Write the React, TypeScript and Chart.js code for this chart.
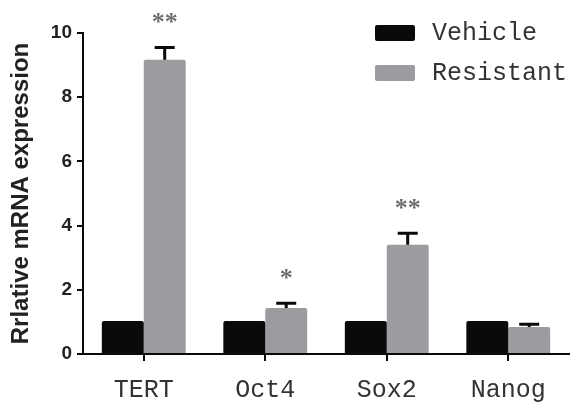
import React, { useEffect, useRef } from "react";
import { Chart, registerables } from "chart.js";
Chart.register(...registerables);

const categories = ["TERT", "Oct4", "Sox2", "Nanog"];
const seriesNames = ["Vehicle", "Resistant"];
const vehicle = [1.03, 1.03, 1.03, 1.03];
const resistant = [9.17, 1.43, 3.4, 0.84];
const resistantErr = [0.38, 0.15, 0.36, 0.09];
const significance = ["**", "*", "**", ""];
const yTicks = [0, 2, 4, 6, 8, 10];

const BLACK = "#0a0a0a";
const GRAY = "#9b9c9f";
const TEXT = "#333333";
const MONO = "'Liberation Mono', 'DejaVu Sans Mono', monospace";
const SANS = "'Liberation Sans', Arial, sans-serif";

const overlay = {
  id: "overlay",
  afterDatasetsDraw(chart: any) {
    const ctx = chart.ctx;
    const y = chart.scales.y;
    const meta = chart.getDatasetMeta(1);
    ctx.save();
    meta.data.forEach((bar: any, i: number) => {
      const top = y.getPixelForValue(resistant[i]);
      const errTop = y.getPixelForValue(resistant[i] + resistantErr[i]);
      ctx.strokeStyle = BLACK;
      ctx.lineWidth = 3;
      ctx.beginPath();
      ctx.moveTo(bar.x, top);
      ctx.lineTo(bar.x, errTop);
      ctx.moveTo(bar.x - 10, errTop);
      ctx.lineTo(bar.x + 10, errTop);
      ctx.stroke();
      if (significance[i]) {
        ctx.fillStyle = "#6e6e6e";
        ctx.font = "bold 26px 'Liberation Serif', serif";
        ctx.textAlign = "center";
        ctx.textBaseline = "middle";
        ctx.fillText(significance[i], bar.x, errTop - 24);
      }
    });
    const colors = [BLACK, GRAY];
    seriesNames.forEach((name, k) => {
      const bx = 375;
      const by = 25 + k * 40;
      ctx.fillStyle = colors[k];
      ctx.beginPath();
      ctx.roundRect(bx, by, 40, 16, 2);
      ctx.fill();
      ctx.fillStyle = TEXT;
      ctx.font = `25px ${MONO}`;
      ctx.textAlign = "left";
      ctx.textBaseline = "middle";
      ctx.fillText(name, 432, by + 8);
    });
    ctx.restore();
  },
};

export default function App() {
  const ref = useRef<HTMLCanvasElement>(null);
  useEffect(() => {
    const chart = new Chart(ref.current!, {
      type: "bar",
      data: {
        labels: categories,
        datasets: [
          { label: seriesNames[0], data: vehicle, backgroundColor: BLACK, borderRadius: 2, borderSkipped: "bottom" },
          { label: seriesNames[1], data: resistant, backgroundColor: GRAY, borderRadius: 2, borderSkipped: "bottom" },
        ],
      },
      options: {
        animation: false,
        responsive: false,
        layout: { padding: { top: 33, right: 4, left: 0, bottom: 0 } },
        datasets: { bar: { categoryPercentage: 0.69, barPercentage: 1 } },
        plugins: { legend: { display: false }, tooltip: { enabled: false } },
        scales: {
          x: {
            grid: { display: true, offset: false, drawOnChartArea: false, tickLength: 7, color: BLACK, lineWidth: 2 },
            border: { color: BLACK, width: 2 },
            ticks: { color: TEXT, font: { family: MONO, size: 25 }, padding: 14 },
            afterFit(s: any) { s.height = 51; },
          },
          y: {
            min: 0,
            max: 10,
            afterBuildTicks(s: any) { s.ticks = yTicks.map((v) => ({ value: v })); },
            grid: { display: true, drawOnChartArea: false, tickLength: 6, color: BLACK, lineWidth: 2 },
            border: { color: BLACK, width: 2 },
            ticks: { color: "#222", font: { family: SANS, size: 19, weight: "bold" }, padding: 5 },
            title: {
              display: true,
              text: "Rrlative mRNA expression",
              color: "#222",
              font: { family: SANS, size: 24, weight: "bold" },
              padding: { top: 7, bottom: 0 },
            },
            afterFit(s: any) { s.width = 83; },
          },
        },
      },
      plugins: [overlay],
    } as any);
    return () => chart.destroy();
  }, []);
  return (
    <div style={{ position: "fixed", left: 0, top: 0, width: 573, height: 405, background: "#fff" }}>
      <canvas ref={ref} width={573} height={405} />
    </div>
  );
}
